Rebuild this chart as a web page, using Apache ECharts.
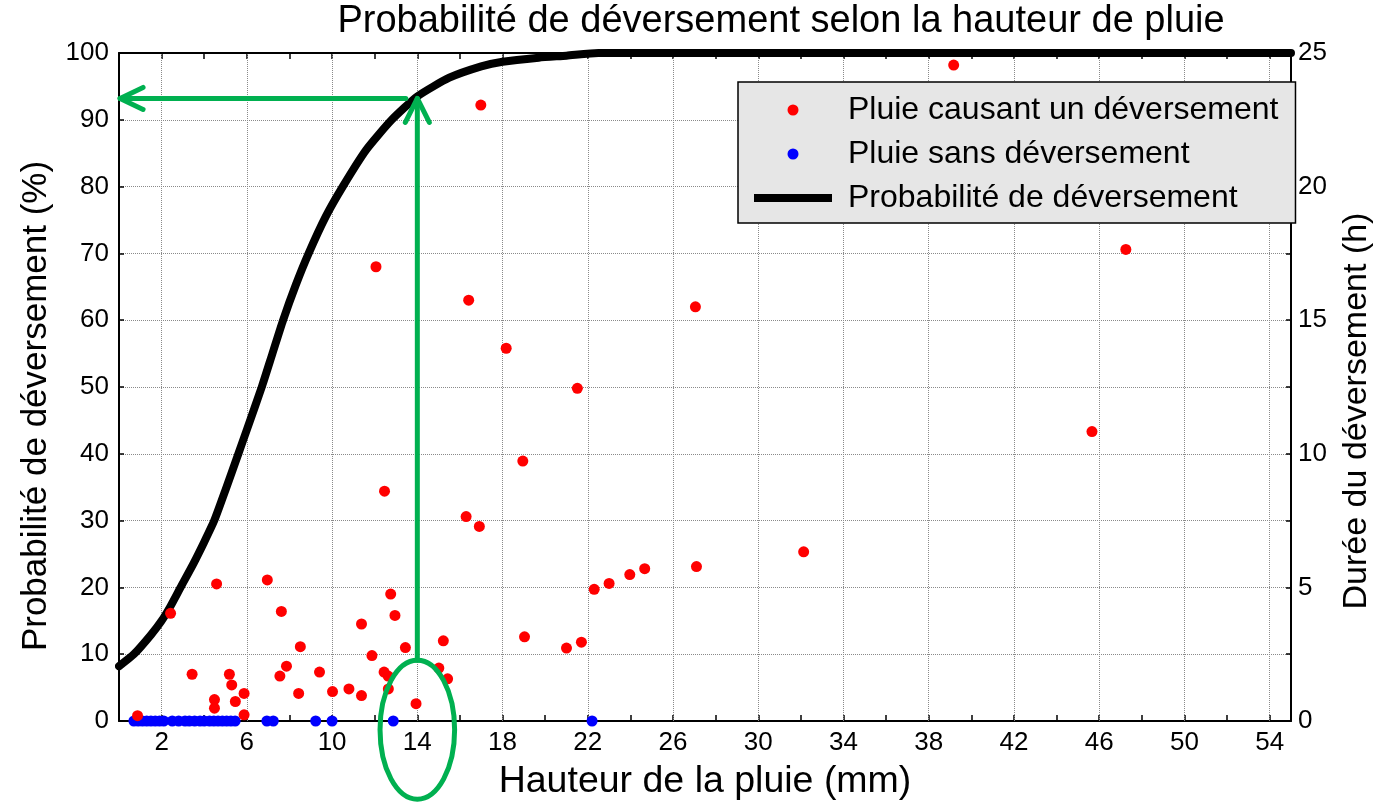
<!DOCTYPE html>
<html><head><meta charset="utf-8">
<script src="https://cdn.jsdelivr.net/npm/echarts@6/dist/echarts.min.js"></script>
<style>html,body{margin:0;padding:0;background:#fff}#c{width:1382px;height:806px}</style>
</head><body><div id="c"></div>
<script>
// ---- data ----
const xTickLabels = [2, 6, 10, 14, 18, 22, 26, 30, 34, 38, 42, 46, 50, 54];
const xTickMarks = [2, 4, 6, 8, 10, 12, 14, 16, 18, 20, 22, 24, 26, 28, 30, 32, 34, 36, 38, 40, 42, 44, 46, 48, 50, 52, 54];
const rightTickMarks = [0, 2.5, 5, 7.5, 10, 12.5, 15, 17.5, 20, 22.5, 25];

// probability curve (%)
const curveX   = [0, 0.7, 1.5, 2.0, 2.42, 2.89, 3.5, 4.0, 4.47, 5.0, 5.6, 6.0, 6.7, 7.2, 7.7, 8.3, 8.9, 9.7, 10.5, 11.6, 12.8, 14.0, 15.5, 17.0, 18.0, 19.7, 21.0, 22.5, 55];
const curvePct = [8.2, 10, 12.9, 15.0, 17.2, 20, 23.6, 26.8, 30, 34.6, 40, 43.6, 50, 55, 60, 65.3, 70, 75.5, 80, 85.5, 90, 93.5, 96.3, 98, 98.7, 99.3, 99.6, 100, 100];

// rain causing overflow: depth (mm), duration (h)
const redX = [0.87, 2.42, 3.43, 4.58, 4.48, 4.48, 5.18, 5.29, 5.46, 5.87, 5.87, 6.96, 7.62, 7.55, 7.86, 8.51, 8.43, 9.41, 10.02, 10.79, 11.38, 11.38, 11.87, 12.06, 12.46, 12.75, 12.95, 12.44, 12.63, 12.64, 13.44, 13.94, 15.22, 15.01, 15.42, 16.41, 16.29, 16.91, 16.98, 18.17, 18.95, 19.03, 21.0, 21.51, 21.7, 22.3, 23.0, 23.97, 24.67, 27.05, 27.1, 32.13, 39.17, 45.66, 47.25];
const redH = [0.2, 4.03, 1.75, 5.13, 0.8, 0.48, 1.75, 1.35, 0.73, 1.03, 0.23, 5.28, 4.1, 1.68, 2.05, 2.78, 1.03, 1.83, 1.1, 1.2, 0.95, 3.63, 2.45, 17.0, 8.6, 4.75, 3.95, 1.83, 1.68, 1.2, 2.75, 0.65, 3.0, 1.98, 1.58, 15.75, 7.65, 7.28, 23.05, 13.95, 9.73, 3.15, 2.73, 12.45, 2.95, 4.93, 5.15, 5.48, 5.7, 15.5, 5.78, 6.33, 24.55, 10.83, 17.65];

// rain without overflow: depth (mm), duration (h)
const blueX = [0.7, 0.9, 1.1, 1.3, 1.5, 1.7, 1.9, 2.1, 2.5, 2.8, 3.1, 3.3, 3.55, 3.8, 4.0, 4.25, 4.45, 4.65, 4.85, 5.05, 5.25, 5.45, 6.94, 7.24, 9.23, 10.0, 12.87, 22.2];
const blueH = [0, 0, 0, 0, 0, 0, 0, 0, 0, 0, 0, 0, 0, 0, 0, 0, 0, 0, 0, 0, 0, 0, 0, 0, 0, 0, 0, 0];

// annotation (data coordinates: mm, %)
const annotX = [14];            // vertical arrow / ellipse centre
const annotLevel = [93.2];      // probability
const annotHStart = [13.46];    // start of horizontal arrow
const annotHEnd = [0.05];       // end of horizontal arrow (left axis)
const ellipseCY = [-1.3];
const ellipseR = [1.75, 10.4];  // radii in (mm, %)

// ---- chart ----
const FONT = 'Liberation Sans, Arial, sans-serif';
const chart = echarts.init(document.getElementById('c'), null, {renderer: 'canvas'});
const GREEN = '#00b050';

const option = {
  animation: false,
  backgroundColor: '#fff',
  textStyle: {fontFamily: FONT, color: '#000'},
  title: {
    text: 'Probabilité de déversement selon la hauteur de pluie',
    left: 781, top: 3, textAlign: 'center', padding: 0,
    textStyle: {fontFamily: FONT, fontSize: 38, fontWeight: 'normal', color: '#000'}
  },
  grid: {left: 119, top: 53, width: 1180, height: 671, containLabel: false},
  legend: {
    orient: 'vertical', left: 738, top: 82,
    backgroundColor: '#e6e6e6', borderColor: '#000', borderWidth: 1.5, borderRadius: 0,
    padding: [10, 17, 7, 16],
    itemWidth: 78, itemHeight: 11, itemGap: 8,
    selectedMode: false,
    textStyle: {fontFamily: FONT, fontSize: 32, color: '#000', lineHeight: 36, padding: [0, 0, 0, 11]},
    data: [
      {name: 'Pluie causant un déversement', icon: 'circle'},
      {name: 'Pluie sans déversement', icon: 'circle'},
      {name: 'Probabilité de déversement', icon: 'path://M0,0L78,0L78,8L0,8Z', itemStyle: {color: '#000'}}
    ]
  },
  xAxis: [{
    type: 'value', min: 0, max: 55, position: 'bottom',
    name: 'Hauteur de la pluie (mm)', nameLocation: 'middle', nameGap: 42,
    nameTextStyle: {fontFamily: FONT, fontSize: 37.5, color: '#000'},
    axisLine: {show: true, onZero: false, lineStyle: {color: '#000', width: 2}},
    axisTick: {show: true, inside: true, length: 6, customValues: xTickMarks, lineStyle: {color: '#000', width: 1.5}},
    axisLabel: {show: true, customValues: xTickLabels, fontFamily: FONT, fontSize: 26, color: '#000', margin: 9},
    splitLine: {show: false}
  }, {
    type: 'value', min: 0, max: 55, position: 'top',
    axisLine: {show: true, onZero: false, lineStyle: {color: '#000', width: 2}},
    axisTick: {show: true, inside: true, length: 6, customValues: xTickMarks, lineStyle: {color: '#000', width: 1.5}},
    axisLabel: {show: false},
    splitLine: {show: false}
  }],
  yAxis: [{
    type: 'value', min: 0, max: 100, interval: 10, position: 'left',
    name: 'Probabilité de déversement (%)', nameLocation: 'middle', nameGap: 65, nameRotate: 90,
    nameTextStyle: {fontFamily: FONT, fontSize: 35, color: '#000', padding: [0, 38, 0, 0]},
    axisLine: {show: true, onZero: false, lineStyle: {color: '#000', width: 2}},
    axisTick: {show: true, inside: true, length: 5, lineStyle: {color: '#000', width: 1.5}},
    axisLabel: {fontFamily: FONT, fontSize: 26, color: '#000', margin: 10},
    splitLine: {show: true, lineStyle: {color: '#8a8a8a', type: 'dotted', width: 1}}
  }, {
    type: 'value', min: 0, max: 25, interval: 5, position: 'right',
    name: 'Durée du déversement (h)', nameLocation: 'middle', nameGap: 49, nameRotate: 90,
    nameTextStyle: {fontFamily: FONT, fontSize: 34, color: '#000', padding: [0, 48, 0, 0]},
    axisLine: {show: true, onZero: false, lineStyle: {color: '#000', width: 2}},
    axisTick: {show: true, inside: true, length: 5, customValues: rightTickMarks, lineStyle: {color: '#000', width: 1.5}},
    axisLabel: {fontFamily: FONT, fontSize: 26, color: '#000', margin: 7},
    splitLine: {show: false}
  }],
  series: [
    {
      name: '_grid', type: 'line', data: [], xAxisIndex: 0, yAxisIndex: 0, silent: true,
      markLine: {
        silent: true, symbol: 'none', z: 1, animation: false,
        label: {show: false},
        lineStyle: {color: '#8a8a8a', type: 'dotted', width: 1},
        emphasis: {disabled: true},
        data: xTickLabels.map(v => ({xAxis: v}))
      }
    },
    {
      name: 'Probabilité de déversement', type: 'line', xAxisIndex: 0, yAxisIndex: 0,
      data: curveX.map((x, i) => [x, curvePct[i]]),
      showSymbol: false, symbol: 'none', z: 2,
      smooth: 0.2,
      lineStyle: {color: '#000', width: 8, join: 'round', cap: 'round'},
      itemStyle: {color: '#000'}
    },
    {
      name: 'Pluie sans déversement', type: 'scatter', xAxisIndex: 0, yAxisIndex: 1,
      data: blueX.map((x, i) => [x, blueH[i]]),
      symbol: 'circle', symbolSize: 11, z: 3, clip: false,
      itemStyle: {color: '#0000ff', opacity: 1}
    },
    {
      name: 'Pluie causant un déversement', type: 'scatter', xAxisIndex: 0, yAxisIndex: 1,
      data: redX.map((x, i) => [x, redH[i]]),
      symbol: 'circle', symbolSize: 11, z: 4, clip: false,
      itemStyle: {color: '#ff0000', opacity: 1}
    },
    {
      name: '_annot', type: 'custom', xAxisIndex: 0, yAxisIndex: 0, clip: false, silent: true, z: 5,
      data: [[annotX[0], annotLevel[0]]],
      renderItem: function (params, api) {
        const c = api.coord([annotX[0], ellipseCY[0]]);
        const s = api.size([ellipseR[0], ellipseR[1]]);
        const vBottom = api.coord([annotX[0], ellipseCY[0] + ellipseR[1]]);
        const vTip = api.coord([annotX[0], annotLevel[0]]);
        const hStart = api.coord([annotHStart[0], annotLevel[0]]);
        const hTip = api.coord([annotHEnd[0], annotLevel[0]]);
        const st = {stroke: GREEN, lineWidth: 5, fill: null, lineCap: 'round', lineJoin: 'round'};
        return {
          type: 'group',
          children: [
            {type: 'ellipse', shape: {cx: c[0], cy: c[1], rx: s[0], ry: s[1]}, style: {stroke: GREEN, lineWidth: 5, fill: 'none'}},
            {type: 'polyline', shape: {points: [vBottom, vTip]}, style: st},
            {type: 'polyline', shape: {points: [[vTip[0] - 12, vTip[1] + 24], vTip, [vTip[0] + 12, vTip[1] + 24]]}, style: st},
            {type: 'polyline', shape: {points: [hStart, hTip]}, style: st},
            {type: 'polyline', shape: {points: [[hTip[0] + 23, hTip[1] - 11], hTip, [hTip[0] + 23, hTip[1] + 11]]}, style: st}
          ]
        };
      }
    }
  ]
};
chart.setOption(option);
</script>
</body></html>
